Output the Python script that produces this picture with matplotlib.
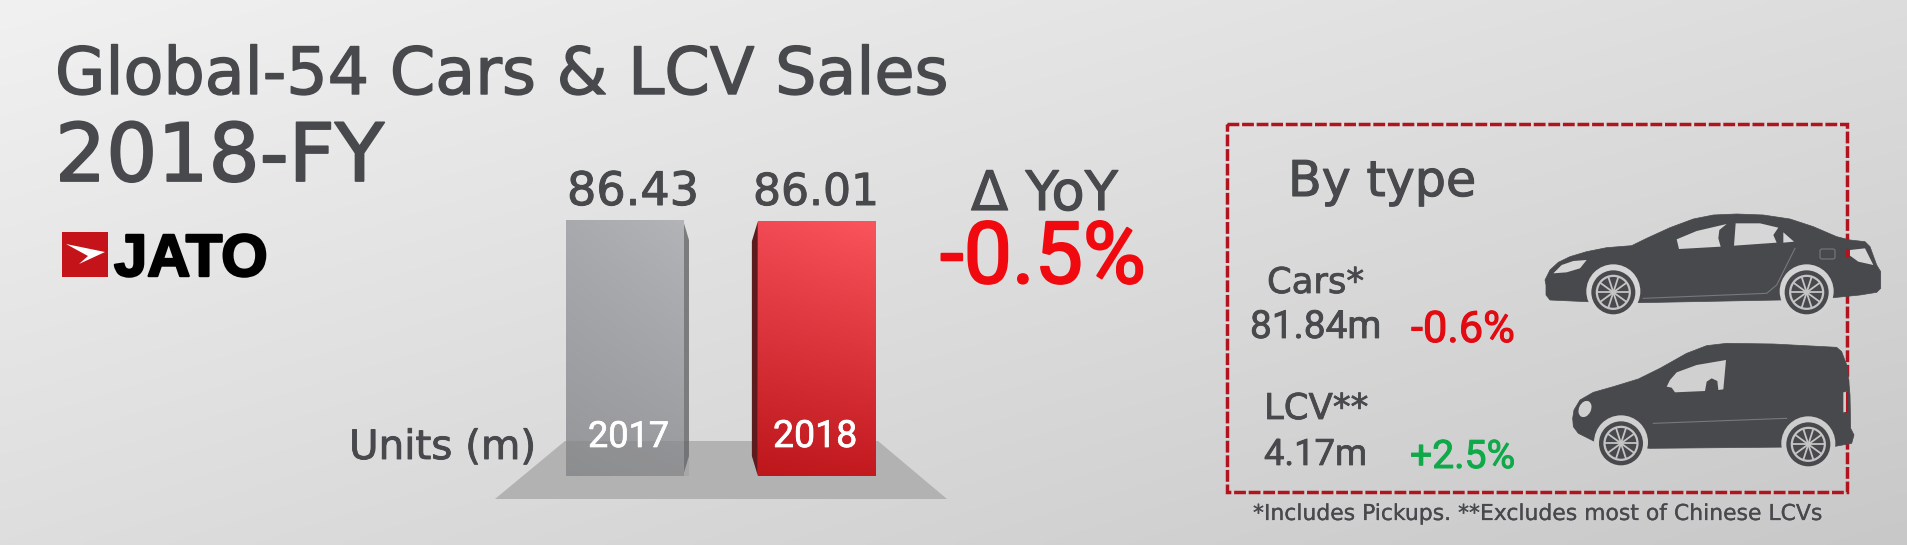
import numpy as np
import matplotlib
matplotlib.use('Agg')
import matplotlib.pyplot as plt
import matplotlib.patheffects as pe
from matplotlib.patches import Polygon, Circle, Rectangle, Ellipse, FancyBboxPatch

W, H = 1907, 545

# chart data
years = ['2017', '2018']
sales = [86.43, 86.01]
delta_total = '-0.5%'
types = ['Cars*', 'LCV**']
type_units = ['81.84m', '4.17m']
type_delta = ['-0.6%', '+2.5%']

DARK = '#48494d'
plt.rcParams['font.family'] = ['DejaVu Sans']

fig = plt.figure(figsize=(W / 100, H / 100), dpi=100)
renderer = fig.canvas.get_renderer()


def px_axes(x0, y0, x1, y1, **kw):
    a = fig.add_axes([x0 / W, 1 - y1 / H, (x1 - x0) / W, (y1 - y0) / H], **kw)
    a.set_axis_off()
    return a


def put_text(x0, x1, base, s, color=DARK, family='DejaVu Sans', weight='normal', stroke=0.022):
    # scale font so text runs from x0 to x1, baseline at base
    t = fig.text(x0 / W, 1 - base / H, s, color=color, family=family, fontweight=weight,
                 fontsize=20, ha='left', va='baseline', zorder=5)
    width = t.get_window_extent(renderer).width
    size = 20 * (x1 - x0) / width
    t.set_fontsize(size)
    t.set_path_effects([pe.withStroke(linewidth=stroke * size, foreground=color)])
    return t


def gradient(tl, tr, bl, br, n=128):
    # four corner colours, blended over an n x n grid
    u = np.linspace(0, 1, n)[None, :, None]
    v = np.linspace(0, 1, n)[:, None, None]
    tl, tr, bl, br = [np.array(c)[None, None, :] for c in (tl, tr, bl, br)]
    return (tl * (1 - u) + tr * u) * (1 - v) + (bl * (1 - u) + br * u) * v


# background
BG = [0.945, 0.865, 0.87, 0.785]
ax = px_axes(0, 0, W, H)
ax.imshow(gradient(*[[c] * 3 for c in BG]), extent=(0, W, H, 0),
          interpolation='bilinear', aspect='auto', zorder=0)
ax.set_xlim(0, W)
ax.set_ylim(H, 0)


def bg_at(x, y):
    u, v = x / W, y / H
    c = (BG[0] * (1 - u) + BG[1] * u) * (1 - v) + (BG[2] * (1 - u) + BG[3] * u) * v
    return (c, c, c)


# floor under the bars
ax.add_patch(Polygon([(565, 441), (878, 441), (947, 499), (495, 499)],
                     closed=True, fc='#b2b2b2', ec='none', zorder=1))

# bars
bar_ax = px_axes(495, 220, 947, 476)
bar_ax.patch.set_alpha(0)
bar_ax.set_zorder(2)
xpos = np.arange(len(sales))
bars = bar_ax.bar(xpos, sales, width=0.61, color='none')
grad_gray = gradient((0.66, 0.665, 0.68), (0.70, 0.705, 0.72), (0.585, 0.59, 0.60), (0.60, 0.605, 0.615))
grad_red = gradient((0.95, 0.29, 0.33), (0.98, 0.33, 0.36), (0.74, 0.09, 0.11), (0.76, 0.10, 0.12))
for b, g in zip(bars, [grad_gray, grad_red]):
    im = bar_ax.imshow(g, extent=(b.get_x(), b.get_x() + b.get_width(), 0, b.get_height()),
                       interpolation='bilinear', aspect='auto', zorder=2)
    im.set_clip_path(b)
bar_ax.set_xlim(-0.674, 1.68)
bar_ax.set_ylim(0, max(sales))

# 3D side faces
dx = 6 / 192
dy = 20 / 256 * max(sales)
b0, b1 = bars[0], bars[1]
r = b0.get_x() + b0.get_width()
h = b0.get_height()
bar_ax.add_patch(Polygon([(r, h), (r + dx, h - dy), (r + dx, dy), (r, 0)], closed=True,
                         fc='#7b7c7e', ec='none', zorder=1, clip_on=False))
l = b1.get_x()
h = b1.get_height()
bar_ax.add_patch(Polygon([(l, h), (l - dx, h - dy), (l - dx, dy), (l, 0)], closed=True,
                         fc='#5e1b1e', ec='none', zorder=1, clip_on=False))
# floor shows faintly through the grey bar
bar_ax.add_patch(Rectangle((b0.get_x(), 0), b0.get_width() + dx, 35 / 256 * max(sales), fc='black',
                           alpha=0.06, ec='none', zorder=3))

# headings
put_text(55, 948, 94, 'Global-54 Cars & LCV Sales')
put_text(55, 384, 181, '2018-FY')
put_text(349, 536, 459, 'Units (m)')

# bar labels
put_text(567, 699, 205, f'{sales[0]:.2f}')
put_text(753, 879, 205, f'{sales[1]:.2f}')
put_text(588, 669, 447, years[0], color='white', family='Roboto', stroke=0.02)
put_text(773, 857, 447, years[1], color='white', family='Roboto', stroke=0.02)

put_text(971, 1118, 210, '\u0394 YoY')
put_text(940, 1146, 283, delta_total, color='#f00a0f', family='Roboto', stroke=0.025)

# logo
ax.add_patch(Rectangle((62, 232), 46, 45, fc='#c4141a', ec='none', zorder=2))
ax.add_patch(Polygon([(66, 244), (105, 252), (79, 264), (88, 256)], closed=True, fc='white', ec='none', zorder=3))
put_text(114, 267, 276, 'JATO', color='black', family='Liberation Sans', weight='bold', stroke=0.04)

# by type box
ax.add_patch(Rectangle((1227, 124), 620, 368, fill=False, ec='#b2141f', lw=2.5,
                       ls=(0, (3.4, 0.8)), zorder=2))
put_text(1288, 1476, 196, 'By type')
put_text(1267, 1364, 293, types[0])
put_text(1250, 1381, 338, type_units[0], family='Roboto', stroke=0.02)
put_text(1411, 1515, 342, type_delta[0], color='#e30b12', family='Roboto', stroke=0.025)
put_text(1264, 1368, 419, types[1])
put_text(1264, 1367, 465, type_units[1], family='Roboto', stroke=0.02)
put_text(1410, 1515, 468, type_delta[1], color='#10a94a', family='Roboto', stroke=0.025)
put_text(1253, 1822, 520, '*Includes Pickups. **Excludes most of Chinese LCVs', stroke=0.012)


def wheel(cx, cy, arch):
    back = bg_at(cx, cy)
    ax.add_patch(Circle((cx, cy - 1), arch, fc=back, ec='none', zorder=4))
    ax.add_patch(Circle((cx, cy), 22, fc=DARK, ec='none', zorder=5))
    ax.add_patch(Circle((cx, cy), 16.5, fc=DARK, ec='#c4c4c4', lw=1.6, zorder=6))
    for a in np.linspace(0, 2 * np.pi, 10, endpoint=False):
        ax.plot([cx, cx + 16 * np.cos(a)], [cy, cy + 16 * np.sin(a)], color='#c4c4c4', lw=1.3, zorder=6)
    ax.add_patch(Circle((cx, cy), 2.5, fc='#c4c4c4', ec='none', zorder=7))


def conv(pts, ox, oy):
    return [(ox + x / 3, oy + y / 3) for x, y in pts]


# sedan
sx, sy = 1530, 205
sedan = [(48, 240), (45, 225), (60, 195), (85, 172), (120, 155), (170, 140), (230, 128), (305, 122),
         (350, 100), (420, 68), (490, 42), (550, 30), (620, 27), (700, 30), (780, 42), (850, 65),
         (920, 95), (960, 105), (1005, 110), (1020, 125), (1040, 180), (1052, 200), (1052, 250),
         (1040, 262), (990, 270), (910, 278), (750, 285), (330, 293), (170, 290), (60, 285), (48, 270)]
ax.add_patch(Polygon(conv(sedan, sx, sy), closed=True, fc=DARK, ec=DARK, lw=0.5, joinstyle='round', zorder=3))
glass = bg_at(1700, 240)
for pts in ([(440, 103), (500, 78), (590, 57), (568, 75), (565, 100), (572, 125), (447, 132)],
            [(617, 55), (690, 55), (745, 68), (730, 90), (740, 113), (612, 122)],
            [(760, 82), (792, 110), (760, 113)],
            [(960, 135), (1005, 130), (1030, 180), (985, 170), (960, 152)],
            [(70, 205), (95, 180), (130, 168), (170, 165), (150, 190), (110, 202)]):
    ax.add_patch(Polygon(conv(pts, sx, sy), closed=True, fc=glass, ec='none', zorder=4))
door = conv([(795, 130), (740, 240), (710, 265), (340, 280)], sx, sy)
ax.plot(*zip(*door), color='#77787c', lw=0.8, zorder=4)
ax.add_patch(FancyBboxPatch((sx + 292, sy + 46), 11, 6, boxstyle='round,pad=2', fc=DARK, ec='#77787c', lw=0.8, zorder=4))
ax.plot([1847, 1847], [250, 255], color='#b2141f', lw=2.2, zorder=4.5)
wheel(sx + 250 / 3, sy + 262 / 3, 27)
wheel(sx + 830 / 3, sy + 262 / 3, 27)

# van
vx, vy = 1560, 335
van = [(38, 250), (42, 225), (60, 195), (100, 172), (160, 155), (235, 132), (300, 100), (380, 55),
       (440, 32), (500, 25), (640, 27), (830, 37), (845, 50), (862, 95), (870, 180), (872, 280),
       (882, 300), (875, 325), (820, 335), (270, 340), (115, 325), (55, 295), (40, 275)]
ax.add_patch(Polygon(conv(van, vx, vy), closed=True, fc=DARK, ec=DARK, lw=0.5, joinstyle='round', zorder=3))
glass = bg_at(1700, 390)
for pts in ([(330, 135), (350, 112), (410, 90), (498, 75), (490, 163), (475, 165), (472, 138), (455, 130),
             (440, 140), (435, 168), (345, 172), (335, 158), (320, 155)],
            [(850, 172), (860, 170), (862, 230), (850, 232)]):
    ax.add_patch(Polygon(conv(pts, vx, vy), closed=True, fc=glass, ec='none', zorder=4))
ax.add_patch(Ellipse((vx + 25, vy + 74), 12, 17, angle=25, fc=glass, ec='none', zorder=4))
ax.plot(*zip(*conv([(280, 265), (680, 250)], vx, vy)), color='#77787c', lw=0.8, zorder=4)
ax.plot([1847, 1847], [393, 412], color='#b2141f', lw=1.5, zorder=4.5)
wheel(vx + 183 / 3, vy + 325 / 3, 27)
wheel(vx + 745 / 3, vy + 328 / 3, 27)

fig.savefig('out.png', dpi=100)
